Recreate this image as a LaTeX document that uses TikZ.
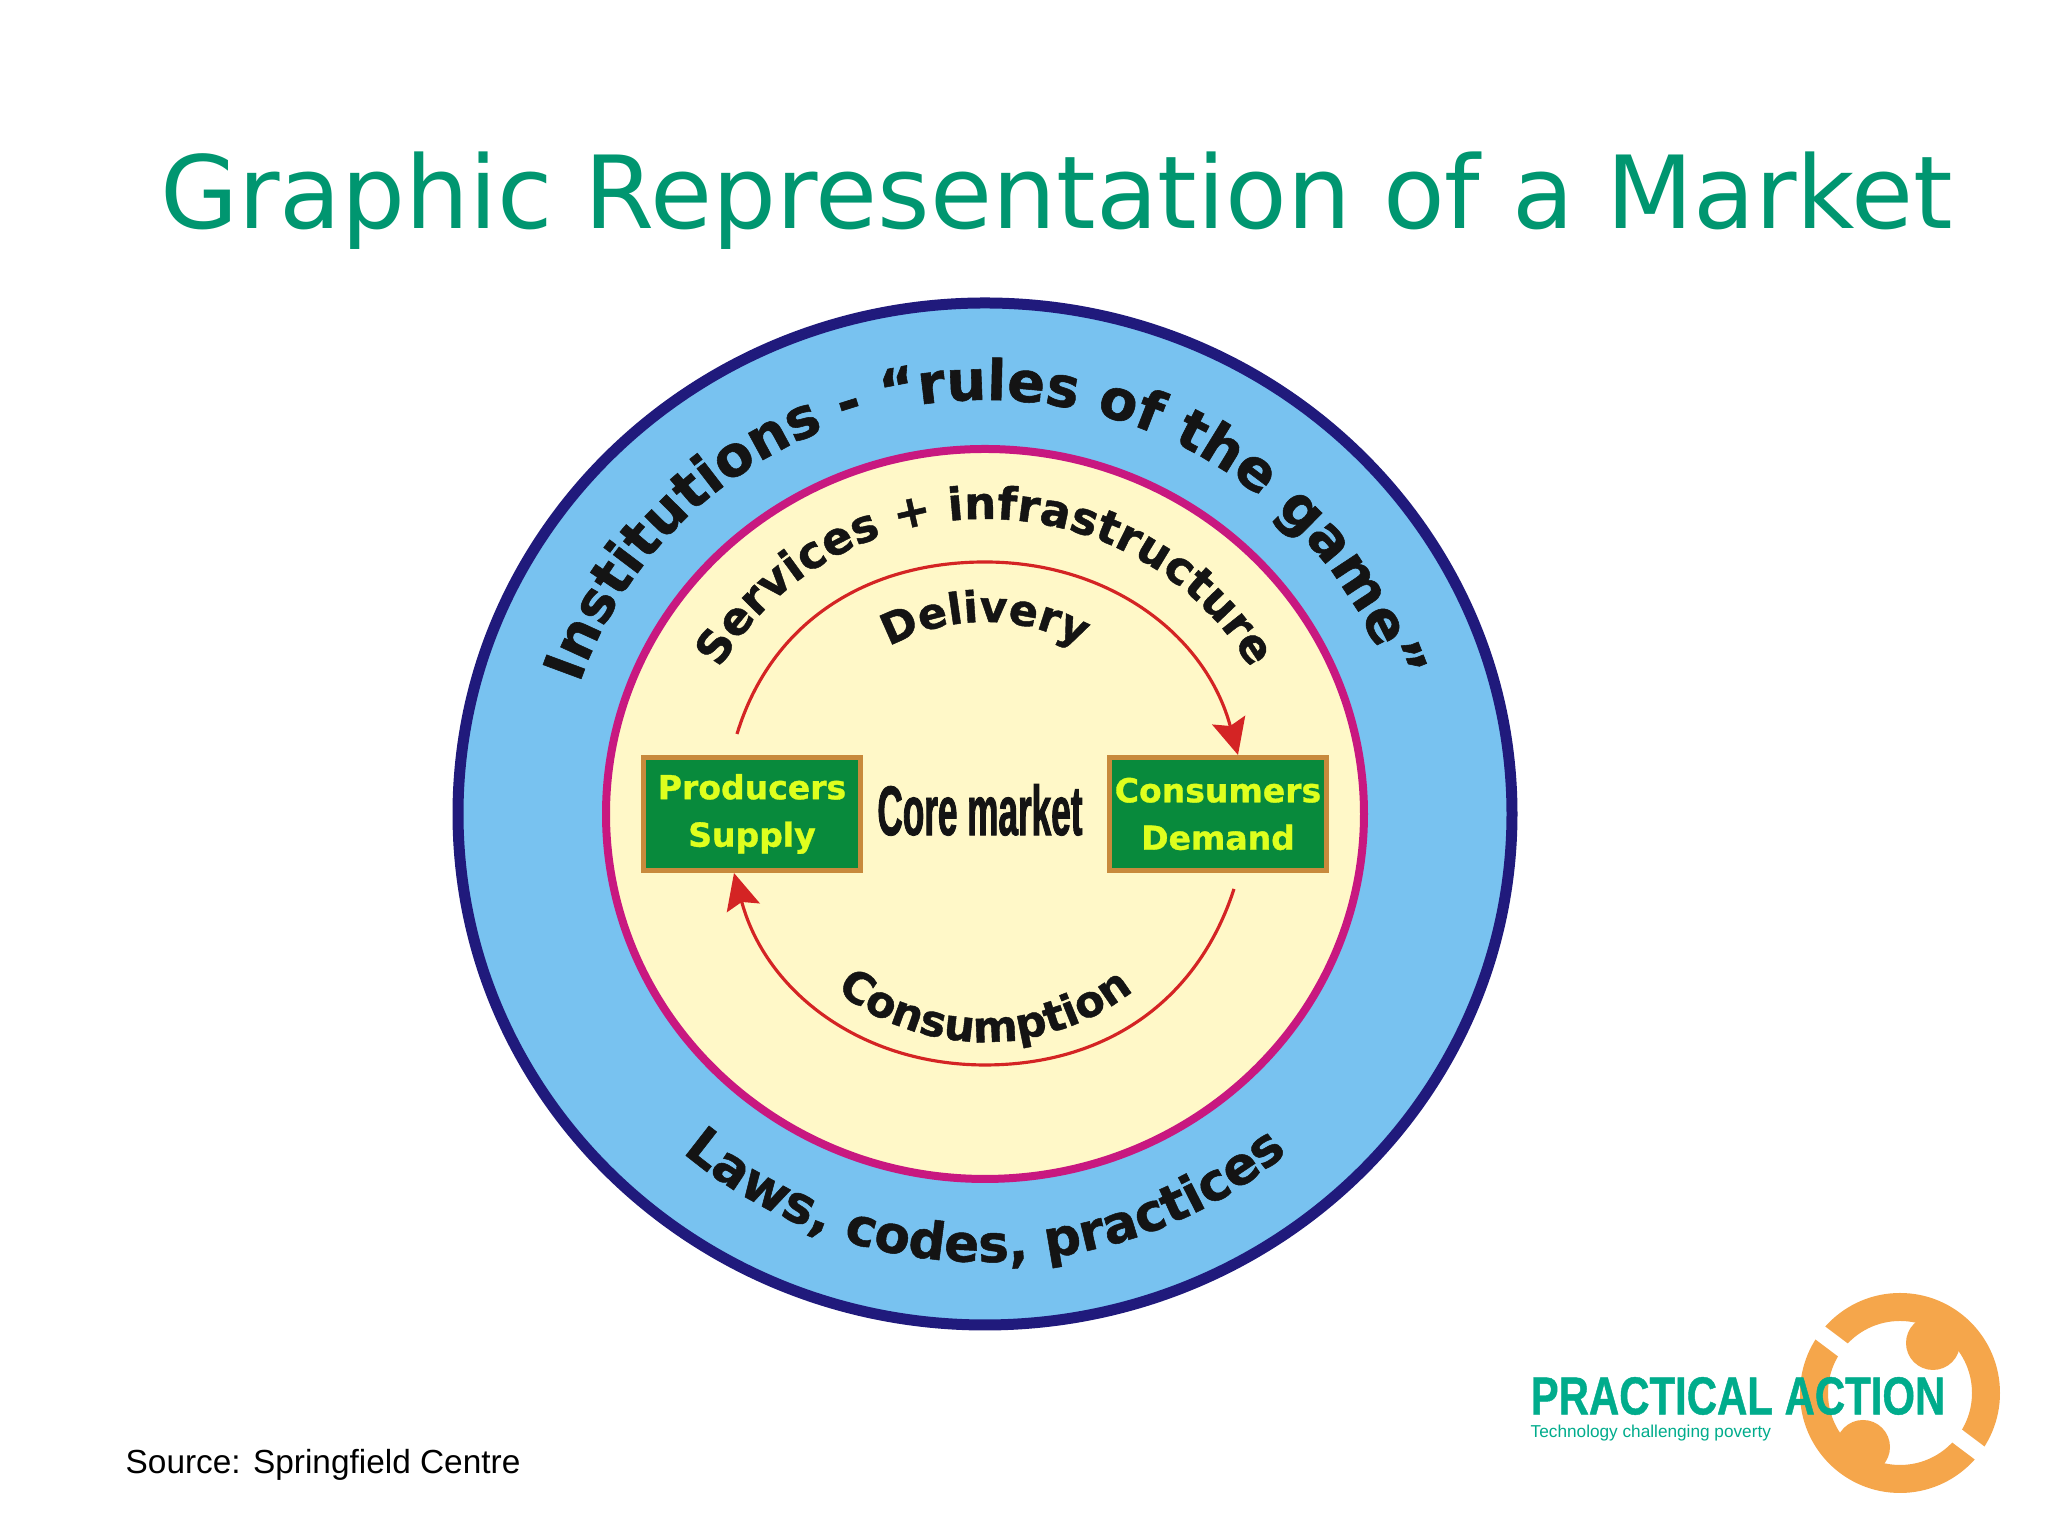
\documentclass[tikz,border=0pt]{standalone}
\usepackage{fontspec}
\usepackage{tikz}
\usetikzlibrary{arrows.meta, positioning, decorations.text}
\setmainfont{Liberation Sans}
\newfontfamily\titlefont{DejaVu Sans}
\newfontfamily\curvefont[FakeBold=1]{DejaVu Sans Bold}
\newfontfamily\corefont[FakeStretch=0.5,FakeBold=1.2]{Liberation Sans Bold}
\newfontfamily\logofont[FakeStretch=0.785,FakeBold=0.8]{Liberation Sans Bold}
\definecolor{myteal}{RGB}{0,150,112}
\definecolor{logoteal}{RGB}{0,172,140}
\definecolor{myorange}{RGB}{245,166,75}
\definecolor{mynavy}{RGB}{32,26,124}
\definecolor{myblue}{RGB}{120,194,240}
\definecolor{mypink}{RGB}{200,24,128}
\definecolor{mycream}{RGB}{255,248,200}
\definecolor{mygreen}{RGB}{8,138,60}
\definecolor{myborder}{RGB}{200,138,60}
\definecolor{myyellow}{RGB}{222,255,30}
\definecolor{myred}{RGB}{212,36,36}
\definecolor{myink}{RGB}{20,20,20}
\tikzset{
    marketbox/.style={draw=myborder,line width=0.5mm,fill=mygreen,minimum width=2.17cm,minimum height=1.13cm,inner sep=0pt,text=myyellow,align=center,font=\curvefont\fontsize{9.4}{13.5}\selectfont},
    flowarrow/.style={draw=myred,line width=0.9pt,-{Stealth[length=3.6mm,width=3.4mm,inset=0.6mm]}},
    curved/.style={decorate,decoration={text along path,text align=center,text color=myink,text={#1}}}
}
\begin{document}
\begin{tikzpicture}
    \useasboundingbox (0,0) rectangle (20.48,15.36);
    \fill[white] (0,0) rectangle (20.48,15.36);

    % Title
    \node[anchor=center,font=\titlefont\fontsize{28.7}{34}\selectfont,myteal] (title) at (10.565,13.35) {Graphic Representation of a Market};

    % Rings
    \coordinate (mid) at (9.85,7.22);
    \draw[mynavy,line width=1.1mm,fill=myblue] (mid) ellipse [x radius=5.27,y radius=5.11];
    \draw[mypink,line width=0.8mm,fill=mycream] (mid) ellipse [x radius=3.79,y radius=3.65];

    % Ring labels
    \path[curved={|\curvefont\fontsize{15.9}{18}\selectfont|Institutions - “rules of the game”}] ([shift={(180:4.27 and 4.14)}]mid) arc[start angle=180,end angle=0,x radius=4.27,y radius=4.14];
    \path[curved={|\curvefont\fontsize{14.7}{18}\selectfont|Laws, codes, practices}] ([shift={(190:4.62 and 4.48)}]mid) arc[start angle=190,end angle=350,x radius=4.62,y radius=4.48];
    \path[curved={|\curvefont\fontsize{12.8}{15}\selectfont|Services + infrastructure}] ([shift={(175:3.05 and 2.95)}]mid) arc[start angle=175,end angle=5,x radius=3.05,y radius=2.95];
    \path[curved={|\curvefont\fontsize{12.2}{14}\selectfont|Delivery}] ([shift={(140:1.95 and 1.92)}]mid) arc[start angle=140,end angle=40,x radius=1.95,y radius=1.92];
    \path[curved={|\curvefont\fontsize{12.3}{14}\selectfont|Consumption}] ([shift={(215:2.35 and 2.28)}]mid) arc[start angle=215,end angle=325,x radius=2.35,y radius=2.28];

    % Core market
    \node[marketbox] (producers) at (7.52,7.22) {Producers\\Supply};
    \node[marketbox] (consumers) at (12.18,7.22) {Consumers\\Demand};
    \node[font=\corefont\fontsize{20}{24}\selectfont,myink] (core) at (9.80,7.26) {Core market};

    % Arrows
    \coordinate (delstart) at (7.37,8.02);
    \coordinate (deltop) at (9.85,9.74);
    \coordinate (conbottom) at (9.85,4.71);
    \coordinate (constart) at (12.34,6.47);
    \draw[flowarrow] (delstart) to[out=73,in=180] (deltop) to[out=0,in=105] (consumers.north -| 12.38,0);
    \draw[flowarrow] (constart) to[out=-108,in=0] (conbottom) to[out=180,in=-75] (producers.south -| 7.34,0);

    % Logo
    \coordinate (logomid) at (19.00,1.43);
    \fill[myorange,even odd rule] (logomid) circle (1.00) (logomid) circle (0.72);
    \fill[myorange] (19.33,1.93) circle (0.27) (18.63,0.89) circle (0.27);
    \draw[white,line width=1.6mm] ([shift={(143:0.6)}]logomid) -- ([shift={(143:1.1)}]logomid);
    \draw[white,line width=1.6mm] ([shift={(-37:0.6)}]logomid) -- ([shift={(-37:1.1)}]logomid);
    \node[anchor=west,inner sep=0pt,font=\logofont\fontsize{15.2}{18}\selectfont,logoteal] (logotext) at (15.30,1.40) {PRACTICAL ACTION};
    \node[anchor=west,inner sep=0pt,font=\fontsize{4.9}{6}\selectfont,logoteal] (logotag) at (15.30,1.03) {Technology challenging poverty};

    % Source
    \node[anchor=base west,inner sep=0pt,font=\fontsize{9.5}{11}\selectfont] (source) at (1.25,0.62) {Source: Springfield Centre};
\end{tikzpicture}
\end{document}
